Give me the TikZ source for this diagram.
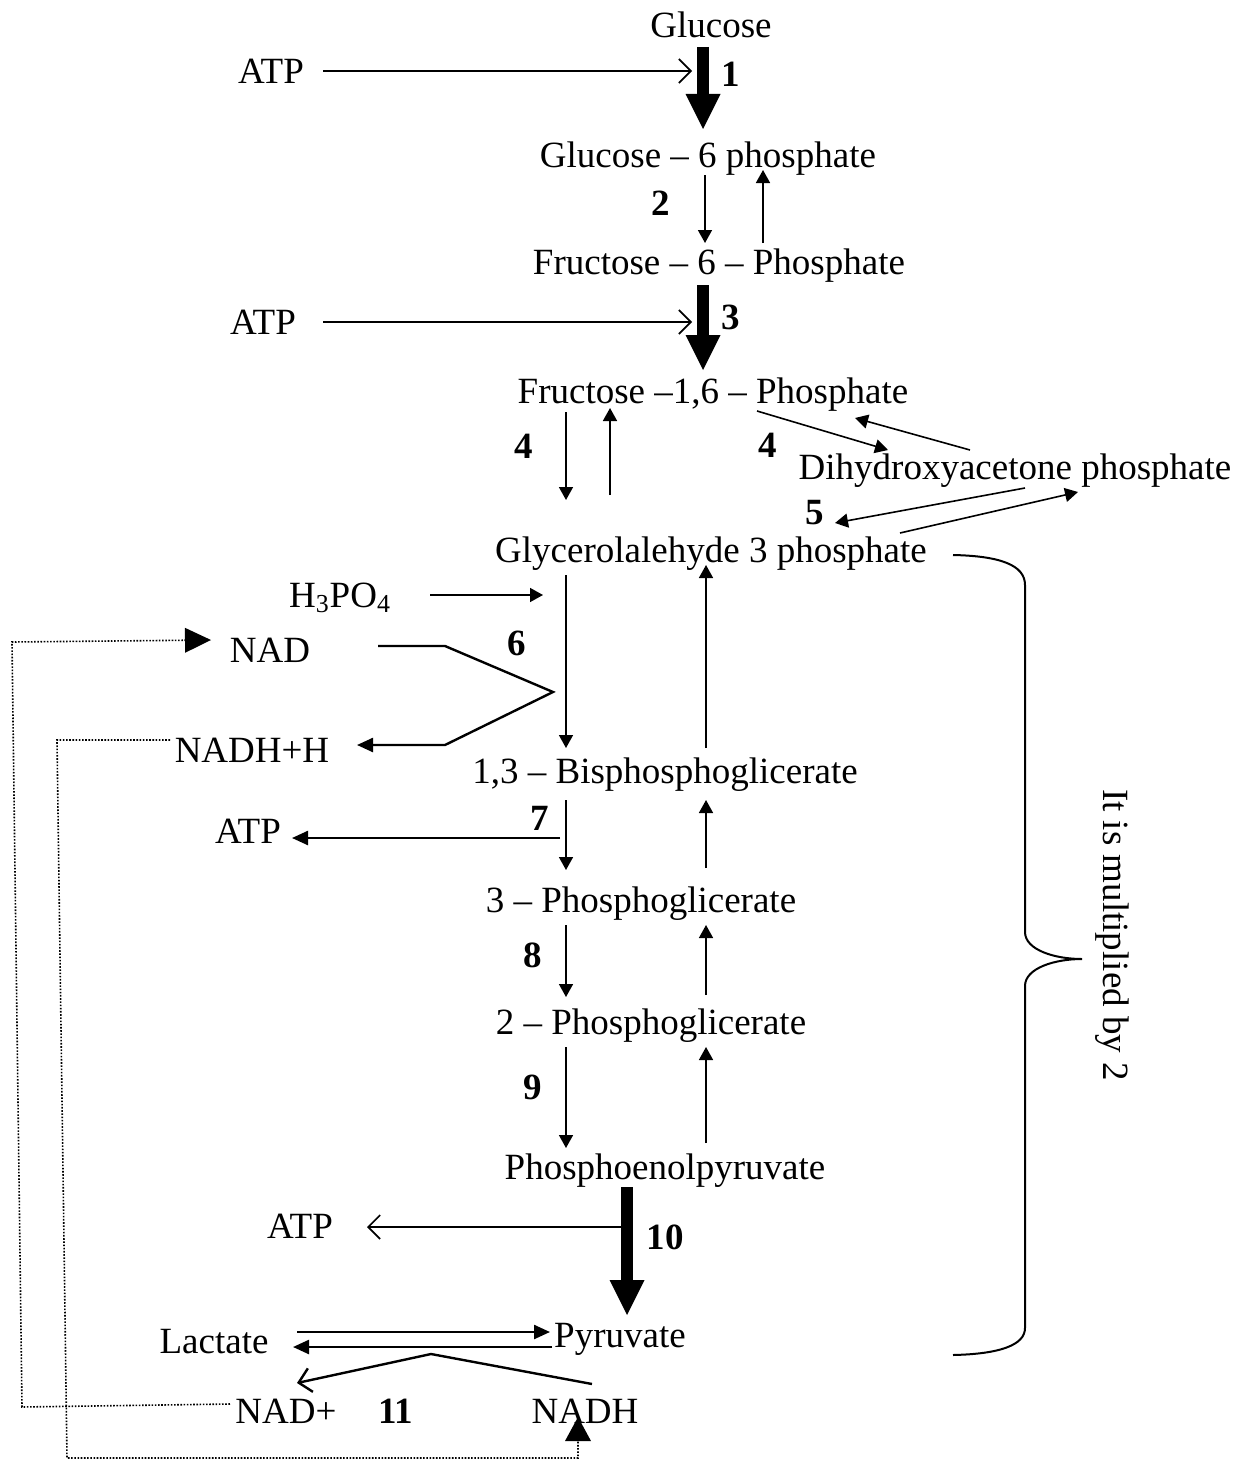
\documentclass[tikz,border=0pt]{standalone}
\usepackage{fontspec}
\setmainfont{Liberation Serif}
\usetikzlibrary{arrows.meta}
\begin{document}
\begin{tikzpicture}[x=0.5pt,y=-0.5pt,
  lbl/.style={anchor=base,inner sep=0pt,font=\fontsize{18.5}{22}\selectfont},
  num/.style={anchor=base,inner sep=0pt,font=\fontsize{18.5}{22}\selectfont\bfseries},
  thinarrow/.style={line width=0.8pt,-{Triangle[length=6.5pt 0,width=7pt 0]}},
  openarrow/.style={line width=0.8pt,-{Straight Barb[length=6pt 0,width=12pt 0]}},
  heavyarrow/.style={line width=6pt,-{Triangle[length=17.5pt 0,width=17.5pt 0,line width=0pt 0]}},
  cofactor/.style={line width=1.2pt},
  recycle/.style={line width=0.8pt,dash pattern=on 0.8pt off 0.8pt},
  bigtip/.style={-{Triangle[length=13pt 0,width=12.5pt 0,line width=0pt 0]}}]
\useasboundingbox (0,0) rectangle (1250,1461);

% ---- metabolites ----
\node[lbl] (glc)   at (711,38)   {Glucose};
\node[lbl] (atpA)  at (271,84)   {ATP};
\node[num] (nA)    at (731,87)   {1};
\node[lbl] (g6p)   at (708,168)  {Glucose – 6 phosphate};
\node[num] (nB)    at (661,215)  {2};
\node[lbl] (f6p)   at (719,274)  {Fructose – 6 – Phosphate};
\node[lbl] (atpB)  at (263,334)  {ATP};
\node[num] (nC)    at (731,329)  {3};
\node[lbl] (f16p)  at (713,403)  {Fructose –1,6 – Phosphate};
\node[num] (nDa)   at (524,458)  {4};
\node[num] (nDb)   at (768,457)  {4};
\node[lbl] (dhap)  at (1015,479) {Dihydroxyacetone phosphate};
\node[num] (nE)    at (815,524)  {5};
\node[lbl] (ga3p)  at (711,562)  {Glycerolalehyde 3 phosphate};
\node[lbl] (h3po4) at (340,607)  {H\textsubscript{3}PO\textsubscript{4}};
\node[lbl] (nad)   at (270,662)  {NAD};
\node[num] (nF)    at (517,655)  {6};
\node[lbl] (nadhh) at (252,762)  {NADH+H};
\node[lbl] (bpg)   at (665,783)  {1,3 – Bisphosphoglicerate};
\node[num] (nG)    at (540,830)  {7};
\node[lbl] (atpC)  at (248,843)  {ATP};
\node[lbl] (pgC)   at (641,912)  {3 – Phosphoglicerate};
\node[num] (nH)    at (533,967)  {8};
\node[lbl] (pgB)   at (651,1034) {2 – Phosphoglicerate};
\node[num] (nI)    at (533,1099) {9};
\node[lbl] (pep)   at (665,1179) {Phosphoenolpyruvate};
\node[lbl] (atpD)  at (300,1238) {ATP};
\node[num] (nJ)    at (665,1249) {10};
\node[lbl] (pyr)   at (620,1347) {Pyruvate};
\node[lbl] (lac)   at (214,1353) {Lactate};
\node[lbl] (nadp)  at (286,1423) {NAD+};
\node[num] (nK)    at (396,1423) {11};
\node[lbl] (nadh)  at (585,1423) {NADH};
\node[inner sep=0pt,rotate=-90,font=\fontsize{18.5}{22}\selectfont] (note) at (1112,935) {It is multiplied by 2};

% ---- connector end points ----
\coordinate (a1s) at (703,47);   \coordinate (a1e) at (703,129);
\coordinate (atpAs) at (323,71); \coordinate (atpAe) at (692,71);
\coordinate (a2s) at (705,175);  \coordinate (a2e) at (705,243);
\coordinate (r2s) at (763,243);  \coordinate (r2e) at (763,170);
\coordinate (atpBs) at (323,322);\coordinate (atpBe) at (692,322);
\coordinate (a3s) at (703,285);  \coordinate (a3e) at (703,370);
\coordinate (a4s) at (566,412);  \coordinate (a4e) at (566,500);
\coordinate (r4s) at (610,495);  \coordinate (r4e) at (610,408);
\coordinate (b4s) at (757,411);  \coordinate (b4e) at (888,450);
\coordinate (q4s) at (970,450);  \coordinate (q4e) at (855,418);
\coordinate (a5s) at (1025,488); \coordinate (a5e) at (835,523);
\coordinate (r5s) at (900,533);  \coordinate (r5e) at (1078,492);
\coordinate (ph)  at (430,595);  \coordinate (phe) at (543,595);
\coordinate (a6s) at (566,575);  \coordinate (a6e) at (566,748);
\coordinate (r6s) at (706,748);  \coordinate (r6e) at (706,565);
\coordinate (nadA) at (378,646); \coordinate (nadB) at (445,646);
\coordinate (nadC) at (553,692); \coordinate (nadD) at (445,745);
\coordinate (nadE) at (357,745);
\coordinate (a7s) at (566,800);  \coordinate (a7e) at (566,870);
\coordinate (atpCs) at (560,838);\coordinate (atpCe) at (292,838);
\coordinate (r7s) at (706,868);  \coordinate (r7e) at (706,800);
\coordinate (a8s) at (566,925);  \coordinate (a8e) at (566,997);
\coordinate (r8s) at (706,995);  \coordinate (r8e) at (706,925);
\coordinate (a9s) at (566,1047); \coordinate (a9e) at (566,1148);
\coordinate (r9s) at (706,1143); \coordinate (r9e) at (706,1047);
\coordinate (a10s) at (627,1187);\coordinate (a10e) at (627,1315);
\coordinate (atpDs) at (622,1227);\coordinate (atpDe) at (367,1227);
\coordinate (lps) at (297,1332); \coordinate (lpe) at (550,1332);
\coordinate (pls) at (552,1347); \coordinate (ple) at (293,1347);
\coordinate (nhA) at (592,1384); \coordinate (nhB) at (431,1354);
\coordinate (nhC) at (297,1383);
% recycling loops
\coordinate (o1) at (230,1404);  \coordinate (o2) at (22,1407);
\coordinate (o3) at (12,642);    \coordinate (o4) at (211,640);
\coordinate (i1) at (170,740);   \coordinate (i2) at (57,740);
\coordinate (i3) at (67,1458);   \coordinate (i4) at (578,1458);
\coordinate (i5) at (578,1417);

% ---- reactions ----
\draw[heavyarrow] (a1s) -- (a1e);
\draw[openarrow] (atpAs) -- (atpAe);
\draw[thinarrow] (a2s) -- (a2e);
\draw[thinarrow] (r2s) -- (r2e);
\draw[openarrow] (atpBs) -- (atpBe);
\draw[heavyarrow] (a3s) -- (a3e);
\draw[thinarrow] (a4s) -- (a4e);
\draw[thinarrow] (r4s) -- (r4e);
\draw[thinarrow] (b4s) -- (b4e);
\draw[thinarrow] (q4s) -- (q4e);
\draw[thinarrow] (a5s) -- (a5e);
\draw[thinarrow] (r5s) -- (r5e);
\draw[thinarrow] (ph) -- (phe);
\draw[thinarrow] (a6s) -- (a6e);
\draw[thinarrow] (r6s) -- (r6e);
\draw[cofactor,-{Triangle[length=8pt 0,width=7pt 0]}] (nadA) -- (nadB) -- (nadC) -- (nadD) -- (nadE);
\draw[thinarrow] (a7s) -- (a7e);
\draw[cofactor,-{Triangle[length=8pt 0,width=7pt 0]}] (atpCs) -- (atpCe);
\draw[thinarrow] (r7s) -- (r7e);
\draw[thinarrow] (a8s) -- (a8e);
\draw[thinarrow] (r8s) -- (r8e);
\draw[thinarrow] (a9s) -- (a9e);
\draw[thinarrow] (r9s) -- (r9e);
\draw[heavyarrow] (a10s) -- (a10e);
\draw[openarrow] (atpDs) -- (atpDe);
\draw[cofactor,-{Triangle[length=8pt 0,width=7pt 0]}] (lps) -- (lpe);
\draw[cofactor,-{Triangle[length=8pt 0,width=7pt 0]}] (pls) -- (ple);
\draw[cofactor,-{Straight Barb[length=6pt 0,width=12pt 0]}] (nhA) -- (nhB) -- (nhC);

% ---- brace ----
\draw[line width=1pt] (953,555) .. controls (1000,556) and (1025,565) .. (1025,585)
  -- (1025,932) .. controls (1025,950) and (1055,959) .. (1082,959)
  .. controls (1055,959) and (1025,968) .. (1025,986)
  -- (1025,1328) .. controls (1025,1345) and (1000,1354) .. (953,1355);

% ---- NAD recycling ----
\draw[recycle,bigtip] (o1) -- (o2) -- (o3) -- (o4);
\draw[recycle,-{Triangle[length=12pt 0,width=13pt 0,line width=0pt 0]}] (i1) -- (i2) -- (i3) -- (i4) -- (i5);
\end{tikzpicture}
\end{document}
